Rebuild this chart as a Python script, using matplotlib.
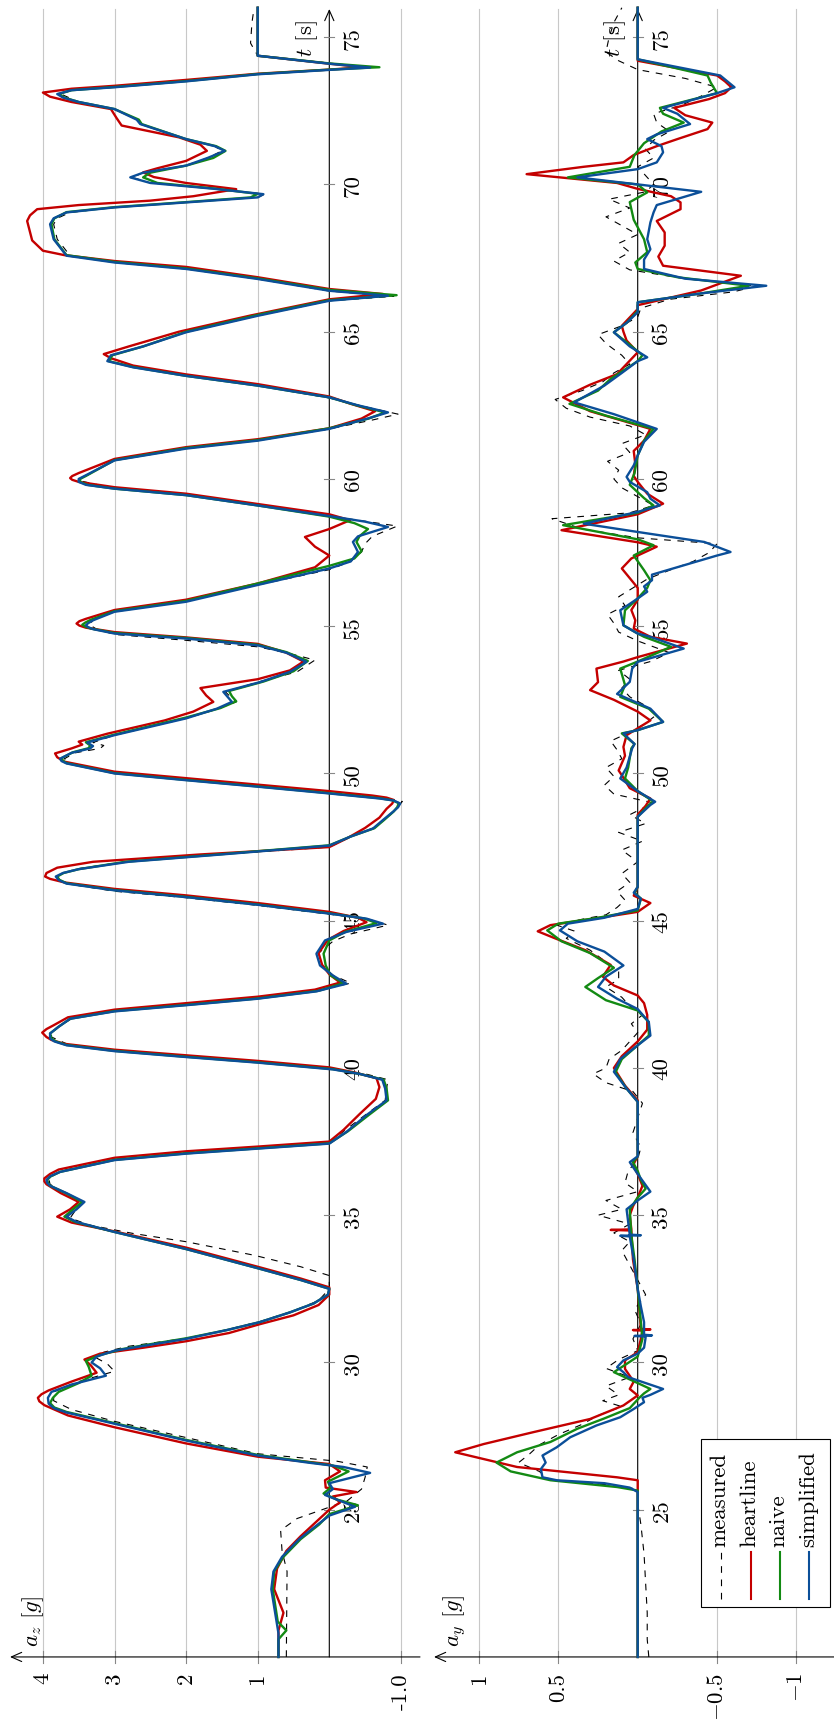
import matplotlib

matplotlib.use("Agg")
import matplotlib.pyplot as plt
from matplotlib.lines import Line2D
from matplotlib.patches import Rectangle

plt.rcParams["font.family"] = "serif"
plt.rcParams["font.serif"] = ["cmr10"]
plt.rcParams["mathtext.fontset"] = "cm"
plt.rcParams["axes.unicode_minus"] = False
plt.rcParams["font.size"] = 16.5

W, H = 834, 1724
FS = 16.5

SERIES = ["measured", "heartline", "naive", "simplified"]
COLORS = {"measured": "black", "heartline": "#c40000", "naive": "#138a13", "simplified": "#0b4f99"}

TIME_TICKS = [25, 30, 35, 40, 45, 50, 55, 60, 65, 70, 75]
AZ_TICKS = [4, 3, 2, 1, -1]
AZ_TICK_LABELS = ["4", "3", "2", "1", "-1.0"]
AY_TICKS = [1, 0.5, -0.5, -1]
AY_TICK_LABELS = ["1", "0.5", r"$-0.5$", r"$-1$"]

# vertical acceleration a_z [g], (t [s], value)
az_simplified = [
    (20.0, 0.71), (20.8, 0.71), (21.4, 0.75), (22.3, 0.81), (22.9, 0.78), (23.4, 0.66), (24.0, 0.42),
    (24.5, 0.16), (24.8, 0.0), (25.1, -0.36), (25.3, -0.15), (25.5, 0.06), (25.7, -0.05), (25.9, 0.0),
    (26.25, -0.57), (26.45, -0.2), (26.6, 0.3), (26.84, 1.0), (27.35, 2.0), (27.92, 3.0), (28.3, 3.67),
    (28.45, 3.85), (28.6, 3.92), (28.8, 3.93), (29.0, 3.88), (29.25, 3.6), (29.55, 3.12), (29.8, 3.2),
    (30.0, 3.32), (30.2, 3.25), (30.4, 3.0), (30.6, 2.5), (30.8, 2.0), (31.1, 1.43), (31.37, 0.97),
    (31.7, 0.55), (32.0, 0.22), (32.3, 0.02), (32.5, 0.0), (32.8, 0.4), (33.2, 1.0), (33.85, 2.0),
    (34.43, 3.0), (34.77, 3.53), (34.95, 3.67), (35.2, 3.53), (35.45, 3.42), (35.75, 3.67), (36.0, 3.9),
    (36.1, 3.94), (36.2, 3.95), (36.32, 3.9), (36.47, 3.76), (36.87, 3.0), (37.09, 2.0), (37.26, 1.0),
    (37.43, 0.0), (37.83, -0.24), (38.4, -0.52), (38.9, -0.8), (39.3, -0.78), (39.6, -0.74), (39.8, -0.42),
    (39.95, -0.05), (40.18, 1.0), (40.37, 2.0), (40.57, 3.0), (40.77, 3.67), (40.9, 3.84), (41.0, 3.9),
    (41.17, 3.9), (41.4, 3.78), (41.67, 3.62), (41.92, 3.0), (42.13, 2.0), (42.35, 1.0), (42.6, 0.18),
    (42.86, -0.24), (43.14, -0.05), (43.48, 0.13), (43.88, 0.18), (44.33, 0.06), (44.62, -0.24),
    (44.9, -0.75), (45.07, -0.52), (45.24, 0.0), (45.54, 1.0), (45.8, 2.0), (46.03, 3.0), (46.26, 3.67),
    (46.38, 3.78), (46.5, 3.82), (46.62, 3.72), (46.75, 3.5), (47.0, 2.8), (47.25, 1.5), (47.55, 0.0),
    (47.85, -0.29), (48.13, -0.61), (48.42, -0.75), (48.7, -0.89), (48.85, -0.96), (48.98, -0.99),
    (49.08, -0.9), (49.15, -0.7), (49.32, 0.0), (49.55, 1.0), (49.77, 2.0), (50.0, 3.0), (50.34, 3.67),
    (50.42, 3.74), (50.5, 3.76), (50.7, 3.6), (50.85, 3.34), (50.93, 3.3), (51.05, 3.38), (51.3, 3.0),
    (51.87, 2.0), (52.2, 1.57), (52.43, 1.36), (52.6, 1.42), (52.77, 1.48), (53.1, 0.97), (53.45, 0.55),
    (53.79, 0.32), (54.1, 0.6), (54.35, 1.0), (54.58, 2.0), (54.75, 3.0), (54.9, 3.3), (54.97, 3.37),
    (55.03, 3.4), (55.1, 3.37), (55.2, 3.3), (55.49, 3.0), (55.83, 2.0), (56.4, 1.0), (56.96, 0.0),
    (57.2, -0.3), (57.52, -0.4), (57.86, -0.33), (58.05, -0.4), (58.37, -0.82), (58.55, -0.5), (58.74, 0.0),
    (59.1, 1.0), (59.45, 2.0), (59.67, 3.0), (59.8, 3.4), (59.9, 3.5), (60.0, 3.5), (60.1, 3.42),
    (60.63, 3.0), (61.03, 2.0), (61.3, 1.0), (61.7, 0.0), (62.04, -0.52), (62.26, -0.82), (62.5, -0.4),
    (62.77, 0.0), (63.17, 1.0), (63.5, 2.0), (63.79, 2.74), (64.0, 3.1), (64.2, 3.05), (64.5, 2.6),
    (64.98, 2.0), (65.54, 1.0), (66.05, 0.0), (66.22, -0.82), (66.39, 0.0), (66.79, 1.0), (67.13, 2.0),
    (67.35, 3.0), (67.58, 3.67), (68.14, 3.85), (68.65, 3.9), (68.85, 3.85), (69.05, 3.67), (69.22, 3.0),
    (69.39, 2.0), (69.56, 1.0), (69.67, 0.92), (69.85, 1.6), (70.05, 2.5), (70.24, 2.78), (70.4, 2.6),
    (70.64, 2.0), (70.9, 1.7), (71.14, 1.46), (71.3, 1.6), (71.54, 2.0), (72.05, 2.64), (72.2, 2.69),
    (72.56, 3.0), (72.8, 3.5), (72.95, 3.72), (73.07, 3.8), (73.2, 3.6), (73.3, 3.0), (73.5, 2.0),
    (73.74, 1.0), (73.89, 0.0), (73.97, -0.57), (74.1, 0.0), (74.37, 1.0), (76.0, 1.0),
]
az_naive = [
    (20.0, 0.71), (20.6, 0.71), (20.9, 0.6), (21.2, 0.72), (22.3, 0.79), (22.9, 0.77), (23.4, 0.64),
    (24.0, 0.4), (24.5, 0.14), (24.85, 0.0), (25.15, -0.4), (25.35, -0.1), (25.55, 0.08), (25.75, -0.02),
    (25.95, 0.02), (26.3, -0.27), (26.5, -0.05), (26.62, 0.3), (26.86, 1.0), (27.37, 2.0), (27.94, 3.0),
    (28.32, 3.67), (28.47, 3.84), (28.62, 3.9), (28.8, 3.86), (29.0, 3.78), (29.3, 3.5), (29.55, 3.32),
    (29.85, 3.36), (30.05, 3.4), (30.25, 3.2), (30.45, 2.9), (30.62, 2.5), (30.82, 2.0), (31.1, 1.43),
    (31.37, 0.97), (31.7, 0.55), (32.0, 0.22), (32.3, 0.02), (32.5, 0.0), (32.8, 0.4), (33.2, 1.0),
    (33.85, 2.0), (34.43, 3.0), (34.77, 3.55), (34.95, 3.7), (35.2, 3.58), (35.45, 3.45), (35.75, 3.68),
    (36.0, 3.9), (36.1, 3.93), (36.2, 3.94), (36.32, 3.89), (36.47, 3.76), (36.88, 3.0), (37.1, 2.0),
    (37.27, 1.0), (37.44, 0.0), (37.85, -0.26), (38.4, -0.55), (38.9, -0.82), (39.3, -0.8), (39.6, -0.76),
    (39.8, -0.42), (39.96, -0.05), (40.19, 1.0), (40.38, 2.0), (40.58, 3.0), (40.78, 3.67), (40.9, 3.82),
    (41.0, 3.88), (41.17, 3.9), (41.4, 3.78), (41.67, 3.62), (41.93, 3.0), (42.14, 2.0), (42.36, 1.0),
    (42.62, 0.15), (42.88, -0.2), (43.14, -0.02), (43.48, 0.05), (43.88, 0.08), (44.33, 0.0), (44.62, -0.22),
    (44.92, -0.66), (45.08, -0.48), (45.25, 0.0), (45.55, 1.0), (45.81, 2.0), (46.04, 3.0), (46.27, 3.67),
    (46.39, 3.77), (46.5, 3.8), (46.62, 3.71), (46.75, 3.5), (47.0, 2.85), (47.25, 1.55), (47.56, 0.0),
    (47.86, -0.3), (48.14, -0.63), (48.43, -0.77), (48.71, -0.9), (48.86, -0.95), (48.99, -0.97),
    (49.09, -0.88), (49.16, -0.7), (49.33, 0.0), (49.56, 1.0), (49.78, 2.0), (50.01, 3.0), (50.35, 3.67),
    (50.43, 3.72), (50.52, 3.74), (50.72, 3.58), (50.86, 3.36), (50.95, 3.34), (51.06, 3.4), (51.32, 3.0),
    (51.9, 2.0), (52.22, 1.52), (52.45, 1.3), (52.62, 1.36), (52.8, 1.4), (53.12, 0.92), (53.47, 0.5),
    (53.82, 0.3), (54.12, 0.6), (54.37, 1.0), (54.6, 2.0), (54.77, 3.0), (54.92, 3.33), (54.99, 3.41),
    (55.05, 3.45), (55.12, 3.41), (55.22, 3.33), (55.51, 3.0), (55.86, 2.0), (56.45, 1.0), (57.05, 0.0),
    (57.3, -0.35), (57.55, -0.45), (57.86, -0.38), (58.05, -0.42), (58.3, -0.54), (58.5, -0.35),
    (58.72, 0.0), (59.1, 1.0), (59.45, 2.0), (59.67, 3.0), (59.8, 3.38), (59.9, 3.48), (60.0, 3.48),
    (60.1, 3.4), (60.64, 3.0), (61.05, 2.0), (61.32, 1.0), (61.72, 0.0), (62.05, -0.55), (62.26, -0.78),
    (62.5, -0.38), (62.77, 0.0), (63.17, 1.0), (63.5, 2.0), (63.8, 2.74), (64.0, 3.08), (64.2, 3.03),
    (64.5, 2.6), (65.0, 2.0), (65.57, 1.0), (66.07, 0.0), (66.24, -0.94), (66.42, 0.0), (66.81, 1.0),
    (67.15, 2.0), (67.37, 3.0), (67.6, 3.67), (68.14, 3.84), (68.65, 3.88), (68.85, 3.84), (69.06, 3.67),
    (69.23, 3.0), (69.4, 2.0), (69.56, 1.1), (69.68, 1.0), (69.86, 1.6), (70.05, 2.4), (70.24, 2.6),
    (70.4, 2.5), (70.64, 2.0), (70.9, 1.62), (71.14, 1.45), (71.3, 1.58), (71.54, 2.0), (72.05, 2.62),
    (72.2, 2.66), (72.56, 3.0), (72.8, 3.5), (72.95, 3.7), (73.07, 3.78), (73.2, 3.6), (73.31, 3.0),
    (73.51, 2.0), (73.75, 1.0), (73.9, 0.0), (73.98, -0.7), (74.11, 0.0), (74.37, 1.0), (76.0, 1.0),
]
az_heartline = [
    (20.0, 0.71), (20.9, 0.71), (21.5, 0.64), (22.3, 0.77), (23.0, 0.73), (23.6, 0.6), (24.1, 0.4),
    (24.55, 0.2), (25.0, 0.0), (25.25, -0.15), (25.45, -0.05), (25.6, -0.38), (25.75, 0.05), (26.0, 0.06),
    (26.3, -0.15), (26.55, 0.0), (26.8, 1.0), (27.25, 2.0), (27.8, 3.0), (28.2, 3.65), (28.55, 3.98),
    (28.68, 4.05), (28.8, 4.07), (28.92, 4.02), (29.05, 3.92), (29.35, 3.6), (29.65, 3.25), (29.9, 3.33),
    (30.1, 3.42), (30.3, 3.2), (30.5, 2.6), (30.72, 2.0), (31.0, 1.4), (31.3, 0.97), (31.6, 0.5),
    (31.95, 0.15), (32.3, 0.0), (32.55, 0.0), (32.85, 0.4), (33.25, 1.0), (33.9, 2.0), (34.45, 3.0),
    (34.75, 3.6), (34.95, 3.8), (35.2, 3.62), (35.45, 3.5), (35.75, 3.75), (36.05, 3.95), (36.15, 3.98),
    (36.25, 3.98), (36.4, 3.9), (36.55, 3.78), (36.95, 3.0), (37.17, 2.0), (37.33, 1.0), (37.5, 0.0),
    (37.9, -0.2), (38.45, -0.43), (38.95, -0.65), (39.35, -0.7), (39.65, -0.66), (39.85, -0.35),
    (40.02, 0.0), (40.24, 1.0), (40.43, 2.0), (40.62, 3.0), (40.82, 3.7), (40.95, 3.88), (41.05, 3.95),
    (41.2, 4.01), (41.32, 3.95), (41.45, 3.85), (41.72, 3.65), (41.98, 3.0), (42.2, 2.0), (42.42, 1.0),
    (42.66, 0.2), (42.9, -0.15), (43.18, 0.0), (43.5, 0.1), (43.9, 0.15), (44.35, 0.02), (44.65, -0.2),
    (44.95, -0.52), (45.1, -0.4), (45.3, 0.0), (45.6, 1.0), (45.86, 2.0), (46.08, 3.0), (46.3, 3.7),
    (46.42, 3.9), (46.5, 3.97), (46.62, 3.95), (46.8, 3.8), (47.0, 3.3), (47.25, 1.8), (47.5, 0.0),
    (47.8, -0.25), (48.15, -0.5), (48.5, -0.7), (48.8, -0.8), (48.98, -0.88), (49.1, -0.9), (49.18, -0.8),
    (49.25, -0.6), (49.4, 0.0), (49.62, 1.0), (49.84, 2.0), (50.06, 3.0), (50.4, 3.7), (50.55, 3.8),
    (50.68, 3.83), (50.85, 3.6), (50.98, 3.45), (51.08, 3.5), (51.35, 3.1), (51.8, 2.3), (52.1, 1.9),
    (52.43, 1.62), (52.65, 1.72), (52.9, 1.8), (53.2, 1.0), (53.5, 0.55), (53.8, 0.36), (54.1, 0.6),
    (54.4, 1.0), (54.62, 2.0), (54.8, 3.0), (54.95, 3.4), (55.02, 3.49), (55.09, 3.53), (55.17, 3.49),
    (55.25, 3.4), (55.55, 3.0), (55.9, 2.0), (56.45, 1.0), (57.0, 0.2), (57.4, 0.0), (57.7, 0.2),
    (58.03, 0.34), (58.3, 0.0), (58.6, -0.29), (58.8, 0.0), (59.15, 1.0), (59.5, 2.0), (59.72, 3.0),
    (59.9, 3.5), (59.97, 3.59), (60.03, 3.62), (60.1, 3.59), (60.2, 3.5), (60.68, 3.0), (61.08, 2.0),
    (61.35, 1.0), (61.72, 0.0), (62.05, -0.45), (62.3, -0.64), (62.55, -0.3), (62.8, 0.0), (63.22, 1.0),
    (63.55, 2.0), (63.85, 2.74), (64.1, 3.05), (64.24, 3.15), (64.5, 2.8), (65.0, 2.1), (65.55, 1.1),
    (66.1, 0.0), (66.28, -0.75), (66.45, 0.0), (66.85, 1.0), (67.2, 2.0), (67.4, 3.0), (67.6, 3.7),
    (67.75, 4.0), (68.1, 4.15), (68.76, 4.22), (68.95, 4.18), (69.16, 4.08), (69.3, 3.5), (69.45, 2.5),
    (69.6, 1.9), (69.84, 1.3), (70.05, 2.0), (70.25, 2.45), (70.41, 2.6), (70.55, 2.4), (70.8, 2.0),
    (71.14, 1.71), (71.35, 1.8), (71.6, 2.1), (72.0, 2.9), (72.25, 2.97), (72.56, 3.05), (72.8, 3.6),
    (72.98, 3.9), (73.12, 4.0), (73.25, 3.6), (73.35, 3.0), (73.55, 2.0), (73.76, 1.0), (73.9, 0.0),
    (73.98, -0.47), (74.1, 0.0), (74.37, 1.0), (76.0, 1.0),
]
az_measured = [
    (20.0, 0.6), (22.9, 0.59), (23.6, 0.66), (24.3, 0.68), (24.7, 0.45), (25.0, 0.1), (25.3, -0.25),
    (25.7, -0.45), (26.1, -0.5), (26.45, -0.53), (26.65, -0.1), (26.9, 1.0), (27.45, 2.0), (28.0, 3.0),
    (28.4, 3.6), (28.7, 3.85), (29.0, 3.85), (29.35, 3.5), (29.7, 3.0), (29.95, 3.1), (30.15, 3.25),
    (30.35, 3.15), (30.55, 2.8), (30.82, 2.0), (31.1, 1.45), (31.4, 0.95), (31.75, 0.5), (32.1, 0.15),
    (32.5, 0.0), (32.95, 0.0), (33.25, 0.4), (33.64, 1.05), (34.1, 2.0), (34.38, 2.74), (34.66, 3.34),
    (34.9, 3.62), (35.15, 3.55), (35.45, 3.45), (35.75, 3.7), (36.05, 3.9), (36.25, 3.92), (36.5, 3.75),
    (36.9, 3.0), (37.12, 2.0), (37.3, 1.0), (37.46, 0.0), (37.85, -0.2), (38.4, -0.5), (38.9, -0.78),
    (39.3, -0.8), (39.6, -0.82), (39.8, -0.5), (39.95, -0.05), (40.2, 1.0), (40.4, 2.0), (40.6, 3.0),
    (40.8, 3.65), (41.05, 3.88), (41.2, 3.88), (41.45, 3.75), (41.7, 3.58), (41.95, 3.0), (42.15, 2.0),
    (42.37, 1.0), (42.62, 0.18), (42.88, -0.3), (43.15, -0.05), (43.5, 0.1), (43.9, 0.15), (44.3, -0.05),
    (44.55, -0.3), (44.85, -0.82), (45.05, -0.55), (45.22, 0.0), (45.52, 1.0), (45.78, 2.0), (46.0, 3.0),
    (46.25, 3.65), (46.5, 3.82), (46.75, 3.55), (47.0, 2.85), (47.25, 1.5), (47.5, 0.0), (47.85, -0.3),
    (48.15, -0.62), (48.45, -0.78), (48.75, -0.92), (49.05, -1.02), (49.2, -0.7), (49.35, 0.0),
    (49.57, 1.0), (49.78, 2.0), (50.0, 3.0), (50.33, 3.6), (50.5, 3.7), (50.7, 3.55), (50.85, 3.2),
    (50.95, 3.15), (51.05, 3.3), (51.3, 3.0), (51.87, 2.0), (52.2, 1.55), (52.43, 1.3), (52.6, 1.38),
    (52.77, 1.45), (53.1, 1.0), (53.45, 0.45), (53.85, 0.2), (54.1, 0.6), (54.3, 1.0), (54.52, 2.0),
    (54.72, 3.0), (54.9, 3.25), (55.05, 3.35), (55.2, 3.3), (55.5, 3.0), (55.85, 2.0), (56.4, 1.0),
    (56.92, 0.0), (57.2, -0.3), (57.52, -0.45), (57.8, -0.5), (58.05, -0.6), (58.4, -0.95), (58.6, -0.4),
    (58.74, 0.0), (59.1, 1.0), (59.45, 2.0), (59.68, 3.0), (59.92, 3.45), (60.1, 3.4), (60.63, 3.0),
    (61.03, 2.0), (61.3, 1.0), (61.7, 0.0), (62.0, -0.6), (62.2, -0.96), (62.45, -0.5), (62.75, 0.0),
    (63.17, 1.0), (63.5, 2.0), (63.79, 2.74), (64.0, 3.05), (64.2, 3.05), (64.5, 2.6), (64.98, 2.0),
    (65.54, 1.0), (66.05, 0.0), (66.2, -0.9), (66.38, 0.0), (66.79, 1.0), (67.13, 2.0), (67.35, 3.0),
    (67.58, 3.62), (68.14, 3.8), (68.65, 3.85), (68.85, 3.8), (69.05, 3.62), (69.22, 3.0), (69.39, 2.0),
    (69.56, 1.0), (69.67, 0.9), (69.85, 1.6), (70.05, 2.5), (70.24, 2.75), (70.4, 2.6), (70.64, 2.0),
    (70.9, 1.7), (71.14, 1.5), (71.3, 1.6), (71.54, 2.0), (72.05, 2.64), (72.2, 2.69), (72.56, 3.0),
    (72.8, 3.5), (73.07, 3.75), (73.2, 3.6), (73.3, 3.0), (73.5, 2.0), (73.74, 1.0), (73.9, 0.0),
    (73.98, -0.55), (74.12, 0.0), (74.37, 1.0), (74.8, 1.1), (75.5, 1.08), (76.0, 1.05),
]

# lateral acceleration a_y [g]
ay_simplified = [
    (20.0, 0.0), (25.6, 0.0), (25.75, 0.05), (25.9, 0.21), (26.0, 0.51), (26.1, 0.6), (26.38, 0.61),
    (26.6, 0.58), (26.84, 0.6), (27.12, 0.51), (27.46, 0.425), (27.86, 0.26), (28.14, 0.11), (28.42, 0.025),
    (28.65, -0.04), (28.8, -0.03), (28.9, -0.08), (29.1, -0.16), (29.3, -0.05), (29.5, 0.06), (29.67, 0.09),
    (29.84, 0.13), (30.07, 0.09), (30.3, 0.0), (30.5, -0.04), (30.85, -0.05), (30.88, -0.04), (30.9, 0.02),
    (30.92, -0.09), (30.94, -0.04), (31.37, -0.04), (31.9, -0.02), (32.5, 0.0), (33.5, 0.025),
    (34.28, 0.05), (34.3, 0.11), (34.32, -0.02), (34.34, 0.05), (35.2, 0.07), (35.5, 0.0), (35.8, -0.08),
    (36.1, -0.04), (36.4, 0.0), (36.8, 0.05), (37.0, 0.0), (38.85, 0.0), (39.3, 0.07), (39.87, 0.15),
    (40.3, 0.11), (40.77, 0.0), (41.1, -0.08), (41.56, -0.07), (42.0, 0.0), (42.35, 0.13), (42.75, 0.25),
    (43.1, 0.2), (43.48, 0.09), (43.95, 0.21), (44.3, 0.38), (44.67, 0.49), (44.9, 0.44), (45.1, 0.21),
    (45.4, 0.0), (45.75, -0.02), (45.95, 0.025), (46.15, 0.0), (48.53, 0.0), (48.93, -0.08), (49.04, -0.11),
    (49.4, 0.0), (49.83, 0.11), (50.2, 0.07), (50.85, 0.035), (51.0, 0.02), (51.36, 0.09), (51.47, 0.0),
    (51.75, -0.16), (52.2, -0.08), (52.7, 0.13), (53.11, 0.05), (53.56, 0.035), (53.79, 0.0), (54.24, -0.29),
    (54.64, -0.08), (54.75, 0.0), (55.03, 0.09), (55.54, 0.11), (55.94, 0.0), (56.17, -0.06), (56.35, -0.04),
    (56.56, -0.09), (56.75, -0.09), (57.4, -0.5), (57.52, -0.585), (57.86, -0.42), (58.2, 0.0), (58.48, 0.34),
    (58.88, 0.0), (59.1, -0.14), (59.33, -0.08), (59.55, -0.06), (59.9, 0.05), (60.07, 0.07), (60.46, 0.025),
    (60.8, 0.0), (61.26, -0.04), (61.7, -0.12), (62.2, 0.15), (62.6, 0.4), (63.17, 0.21), (63.6, 0.1),
    (64.0, 0.0), (64.13, -0.06), (64.5, 0.05), (64.98, 0.15), (65.3, 0.07), (65.66, 0.0), (66.0, 0.0),
    (66.3, -0.4), (66.56, -0.81), (66.8, -0.3), (67.13, -0.04), (67.45, -0.04), (67.8, -0.08), (68.14, -0.06),
    (68.71, -0.08), (69.05, -0.1), (69.3, -0.12), (69.75, -0.4), (70.0, 0.0), (70.24, 0.38), (70.52, 0.0),
    (70.75, -0.12), (71.09, -0.16), (71.3, -0.15), (71.54, -0.06), (71.7, -0.12), (72.05, -0.33),
    (72.4, -0.25), (72.6, -0.16), (73.1, -0.5), (73.3, -0.61), (73.7, -0.52), (74.25, 0.0), (76.0, 0.0),
]
ay_naive = [
    (20.0, 0.0), (25.65, 0.0), (25.77, 0.13), (26.0, 0.55), (26.3, 0.8), (26.6, 0.89), (26.95, 0.76),
    (27.3, 0.55), (27.75, 0.38), (28.1, 0.21), (28.45, 0.05), (28.8, -0.01), (28.95, -0.04), (29.1, -0.08),
    (29.3, 0.0), (29.67, 0.15), (29.95, 0.07), (30.2, 0.0), (30.8, -0.03), (32.5, 0.0), (33.5, 0.02),
    (34.3, 0.04), (35.2, 0.05), (35.6, 0.0), (35.9, -0.05), (36.2, -0.02), (36.5, 0.0), (36.8, 0.03),
    (37.0, 0.0), (38.85, 0.0), (39.3, 0.07), (39.85, 0.14), (40.3, 0.1), (40.77, 0.0), (41.1, -0.07),
    (41.56, -0.07), (41.95, 0.0), (42.3, 0.2), (42.75, 0.33), (43.05, 0.25), (43.4, 0.15), (43.9, 0.3),
    (44.3, 0.48), (44.67, 0.57), (44.9, 0.5), (45.1, 0.25), (45.35, 0.0), (45.75, -0.02), (45.95, 0.02),
    (46.15, 0.0), (48.53, 0.0), (48.93, -0.07), (49.04, -0.1), (49.4, 0.0), (49.83, 0.08), (50.2, 0.06),
    (50.85, 0.04), (51.0, 0.02), (51.36, 0.1), (51.47, 0.0), (51.75, -0.16), (52.2, -0.07), (52.6, 0.11),
    (53.0, 0.08), (53.56, 0.11), (53.8, 0.0), (54.3, -0.21), (54.64, -0.04), (54.75, 0.0), (55.03, 0.09),
    (55.54, 0.08), (55.94, 0.0), (56.3, -0.06), (56.56, -0.08), (56.9, -0.04), (57.4, 0.025), (57.75, -0.1),
    (57.95, 0.0), (58.43, 0.47), (58.85, 0.0), (59.1, -0.1), (59.35, -0.04), (59.8, 0.05), (60.2, 0.02),
    (60.8, 0.0), (61.3, -0.04), (61.7, -0.1), (62.15, 0.2), (62.55, 0.43), (63.0, 0.25), (63.4, 0.17),
    (64.0, 0.0), (64.2, -0.03), (64.6, 0.06), (64.98, 0.15), (65.3, 0.07), (65.7, 0.0), (66.0, 0.0),
    (66.3, -0.4), (66.56, -0.7), (66.85, -0.25), (67.13, 0.0), (67.35, 0.015), (67.7, -0.06), (68.14, -0.04),
    (68.8, 0.025), (69.4, 0.05), (69.73, -0.06), (70.0, 0.0), (70.24, 0.44), (70.6, 0.05), (71.0, 0.02),
    (71.4, -0.04), (71.8, -0.15), (72.1, -0.29), (72.4, -0.16), (72.6, -0.14), (73.1, -0.5), (73.46, -0.46),
    (73.7, -0.44), (74.25, 0.0), (76.0, 0.0),
]
ay_heartline = [
    (20.0, 0.0), (26.0, 0.0), (26.1, 0.13), (26.45, 0.76), (26.95, 1.15), (27.23, 0.97), (27.63, 0.66),
    (28.08, 0.3), (28.54, 0.09), (28.88, 0.0), (29.1, 0.05), (29.35, 0.025), (29.78, 0.08), (30.07, 0.08),
    (30.35, 0.0), (30.8, -0.02), (31.08, -0.03), (31.1, 0.03), (31.12, -0.08), (31.14, -0.02), (32.5, 0.0),
    (33.5, 0.03), (34.48, 0.04), (34.5, 0.17), (34.52, 0.04), (35.0, 0.05), (35.3, 0.03), (35.6, 0.0),
    (36.0, -0.03), (36.4, 0.0), (36.7, 0.03), (37.0, 0.0), (38.9, 0.0), (39.4, 0.08), (40.0, 0.15),
    (40.4, 0.1), (40.9, 0.0), (41.3, -0.06), (41.8, -0.06), (42.2, -0.04), (42.46, 0.0), (42.8, 0.15),
    (43.1, 0.22), (43.5, 0.17), (44.0, 0.33), (44.4, 0.52), (44.64, 0.63), (44.85, 0.55), (45.05, 0.3),
    (45.3, 0.0), (45.6, -0.08), (45.85, 0.025), (46.15, 0.0), (48.6, 0.0), (48.9, -0.05), (49.15, -0.08),
    (49.5, 0.05), (49.94, 0.1), (50.1, 0.12), (50.6, 0.08), (50.9, 0.09), (51.3, 0.07), (51.8, -0.08),
    (52.1, 0.0), (52.5, 0.15), (52.83, 0.3), (53.1, 0.25), (53.56, 0.26), (53.8, 0.09), (53.95, 0.0),
    (54.41, -0.31), (54.64, -0.08), (54.92, 0.025), (55.2, 0.015), (55.55, 0.04), (55.9, 0.0), (56.3, 0.0),
    (56.5, 0.03), (56.96, 0.1), (57.3, 0.04), (57.7, -0.12), (57.85, 0.0), (58.26, 0.48), (58.8, 0.0),
    (59.16, -0.16), (59.5, -0.06), (59.9, 0.0), (60.1, 0.025), (60.5, 0.015), (60.95, 0.025), (61.3, -0.04),
    (61.7, -0.08), (62.3, 0.3), (62.77, 0.47), (63.2, 0.3), (63.56, 0.13), (64.3, 0.0), (64.7, 0.07),
    (65.0, 0.09), (65.2, 0.1), (65.77, 0.0), (65.9, 0.0), (66.4, -0.4), (66.9, -0.65), (67.24, -0.16),
    (67.55, -0.13), (67.92, -0.17), (68.37, -0.17), (68.76, -0.12), (69.16, -0.27), (69.39, -0.27),
    (69.6, -0.21), (69.85, 0.0), (70.05, 0.13), (70.35, 0.7), (70.6, 0.34), (70.75, 0.09), (71.0, 0.025),
    (71.3, -0.12), (71.54, -0.25), (71.88, -0.44), (72.1, -0.47), (72.35, -0.3), (72.6, -0.23),
    (72.9, -0.45), (73.1, -0.55), (73.3, -0.59), (73.5, -0.55), (73.7, -0.5), (74.2, 0.0), (76.0, 0.0),
]
ay_measured = [
    (20.0, -0.07), (20.6, -0.06), (21.5, -0.06), (22.5, -0.05), (23.5, -0.04), (24.5, -0.02), (25.2, 0.0),
    (25.7, 0.0), (25.85, 0.2), (26.0, 0.55), (26.3, 0.62), (26.6, 0.75), (26.9, 0.68), (27.2, 0.62),
    (27.55, 0.5), (27.9, 0.35), (28.2, 0.25), (28.5, 0.1), (28.7, 0.22), (28.9, 0.12), (29.2, 0.2),
    (29.5, 0.05), (29.8, 0.2), (30.1, 0.12), (30.4, 0.0), (30.8, 0.03), (31.3, -0.02), (31.8, 0.02),
    (32.3, -0.05), (32.8, 0.0), (33.3, 0.05), (33.8, 0.1), (34.1, 0.05), (34.4, 0.15), (34.7, 0.05),
    (35.0, 0.25), (35.2, 0.1), (35.5, 0.2), (35.8, 0.0), (36.1, 0.08), (36.5, 0.06), (36.9, 0.0),
    (37.3, -0.02), (37.8, 0.03), (38.3, 0.0), (38.8, -0.03), (39.2, 0.03), (39.5, 0.2), (39.8, 0.28),
    (40.0, 0.2), (40.3, 0.18), (40.6, 0.1), (40.9, 0.05), (41.2, 0.0), (41.5, 0.04), (41.8, -0.03),
    (42.1, 0.05), (42.4, 0.1), (42.75, 0.2), (43.0, 0.12), (43.3, 0.12), (43.6, 0.2), (44.0, 0.3),
    (44.4, 0.45), (44.65, 0.4), (44.85, 0.51), (45.05, 0.35), (45.2, 0.2), (45.45, 0.13), (45.7, 0.08),
    (46.0, 0.13), (46.3, 0.05), (46.6, 0.1), (47.0, 0.0), (47.4, 0.1), (47.7, -0.03), (48.0, 0.12),
    (48.3, -0.05), (48.6, 0.05), (49.0, -0.1), (49.3, 0.15), (49.6, 0.21), (49.9, 0.15), (50.2, 0.2),
    (50.5, 0.1), (50.8, 0.13), (51.1, 0.17), (51.4, 0.05), (51.7, -0.05), (52.0, -0.12), (52.3, -0.05),
    (52.6, 0.05), (52.9, 0.1), (53.2, 0.05), (53.5, 0.12), (53.8, -0.08), (54.1, -0.2), (54.5, 0.0),
    (54.8, 0.12), (55.1, 0.15), (55.4, 0.19), (55.7, 0.08), (56.0, 0.12), (56.3, 0.03), (56.6, -0.06),
    (56.9, -0.2), (57.2, -0.35), (57.5, -0.45), (57.8, -0.5), (58.0, 0.0), (58.3, 0.35), (58.65, 0.54),
    (58.85, 0.05), (59.1, -0.1), (59.4, 0.0), (59.7, 0.1), (60.0, 0.15), (60.3, 0.12), (60.6, 0.19),
    (60.9, 0.05), (61.2, 0.1), (61.5, -0.05), (61.8, 0.05), (62.1, 0.3), (62.4, 0.45), (62.7, 0.52),
    (63.0, 0.35), (63.3, 0.22), (63.6, 0.15), (63.9, 0.05), (64.2, 0.1), (64.6, 0.2), (64.9, 0.25),
    (65.2, 0.1), (65.5, 0.0), (65.8, -0.02), (66.1, -0.2), (66.35, -0.6), (66.55, -0.75), (66.8, -0.3),
    (67.1, 0.05), (67.4, 0.15), (67.7, 0.05), (68.0, 0.12), (68.3, 0.0), (68.6, 0.1), (68.9, 0.2),
    (69.2, 0.05), (69.5, 0.18), (69.75, -0.05), (70.0, -0.1), (70.3, -0.05), (70.6, 0.0), (70.9, -0.1),
    (71.2, -0.05), (71.5, -0.1), (71.8, -0.2), (72.1, -0.12), (72.4, -0.1), (72.7, -0.28), (73.0, -0.4),
    (73.3, -0.5), (73.6, -0.3), (73.9, 0.0), (74.2, 0.12), (74.5, 0.2), (75.0, 0.18), (75.5, 0.15),
    (76.0, 0.1),
]

AZ_DATA = {"measured": az_measured, "heartline": az_heartline, "naive": az_naive, "simplified": az_simplified}
AY_DATA = {"measured": ay_measured, "heartline": ay_heartline, "naive": ay_naive, "simplified": ay_simplified}


def px(x, y):
    """Full-size pixel position -> figure fraction."""
    return x / W, 1 - y / H


def t_of(y):
    # time axis runs bottom-to-top: t=25 at y=1510.7, 29.45 px per second
    return 25 + (1510.7 - y) / 29.45


def draw_panel(ax, span, data, ticks, tick_labels, zero_x, unit, arrow_left, right_end, label, label_x, t_label_x,
               tick_dx):
    v_of = lambda x: (zero_x - x) / unit
    ax.set_xlim(v_of(span[0]), v_of(span[1]))
    ax.set_ylim(t_of(H), t_of(0))
    ax.axis("off")
    t_top = t_of(10)

    for g in ticks:
        ax.plot([g, g], [20, t_top], color="#c8c8c8", lw=0.8, zorder=1)
        ax.plot([g, g], [19.8, 20.2], color="#888888", lw=0.8, zorder=2)
    for g, lab in zip(ticks, tick_labels):
        ax.text(g, t_of(1673), lab, rotation=90, ha="center", va="top", fontsize=FS)

    arrow = dict(arrowstyle="->,head_length=0.45,head_width=0.2", lw=0.8, color="black", shrinkA=0, shrinkB=0)
    ax.annotate("", xy=(0, t_top), xytext=(0, 20), arrowprops=arrow, zorder=2)
    ax.annotate("", xy=(v_of(arrow_left), 20), xytext=(v_of(right_end), 20), arrowprops=arrow, zorder=2)

    for t in TIME_TICKS:
        ax.plot([tick_dx, -tick_dx], [t, t], color="#888888", lw=0.8, zorder=2)
        ax.text(v_of(zero_x + 24), t, str(t), rotation=90, ha="center", va="center", fontsize=FS)

    for name in SERIES:
        ts, vs = zip(*data[name])
        if name == "measured":
            ax.plot(vs, ts, color="black", lw=0.8, ls=(0, (6, 6)), zorder=3)
        else:
            ax.plot(vs, ts, color=COLORS[name], lw=1.7, zorder=4, solid_joinstyle="round")

    ax.text(v_of(label_x), t_of(1647), label, rotation=90, ha="center", va="bottom", fontsize=FS)
    ax.text(v_of(t_label_x), t_of(20), r"$t$ [s]", rotation=90, ha="center", va="top", fontsize=FS)


fig = plt.figure(figsize=(W / 100, H / 100), dpi=100)
ax_top = fig.add_axes([0, 0, 425 / W, 1])
ax_bot = fig.add_axes([425 / W, 0, (W - 425) / W, 1])

draw_panel(ax_top, (0, 425), AZ_DATA, AZ_TICKS, AZ_TICK_LABELS, 329.3, 71.6, 10, 420,
           r"$a_z$ [$g$]", 33, 307, 0.07)
draw_panel(ax_bot, (425, W), AY_DATA, AY_TICKS, AY_TICK_LABELS, 637.7, 158.7, 434, W,
           r"$a_y$ [$g$]", 455, 615, 0.032)

# legend, drawn by hand because the whole chart is turned on its side
x0, y0 = px(700.7, 1608)
x1, y1 = px(830, 1440)
fig.patches.append(Rectangle((x0, y0), x1 - x0, y1 - y0, transform=fig.transFigure,
                             facecolor="white", edgecolor="black", lw=0.8, zorder=10))
for name, lx in zip(SERIES, [720.7, 750.7, 780.0, 809.3]):
    (ax_, ay_), (bx_, by_) = px(lx, 1600), px(lx, 1553)
    ls = (0, (6, 6)) if name == "measured" else "-"
    lw = 0.8 if name == "measured" else 1.5
    fig.lines.append(Line2D([ax_, bx_], [ay_, by_], transform=fig.transFigure, color=COLORS[name],
                            lw=lw, ls=ls, zorder=11))
    tx, ty = px(lx - 1, 1547)
    fig.text(tx, ty, name, rotation=90, ha="center", va="bottom", fontsize=FS, zorder=11)

fig.savefig("out.png", dpi=100)
